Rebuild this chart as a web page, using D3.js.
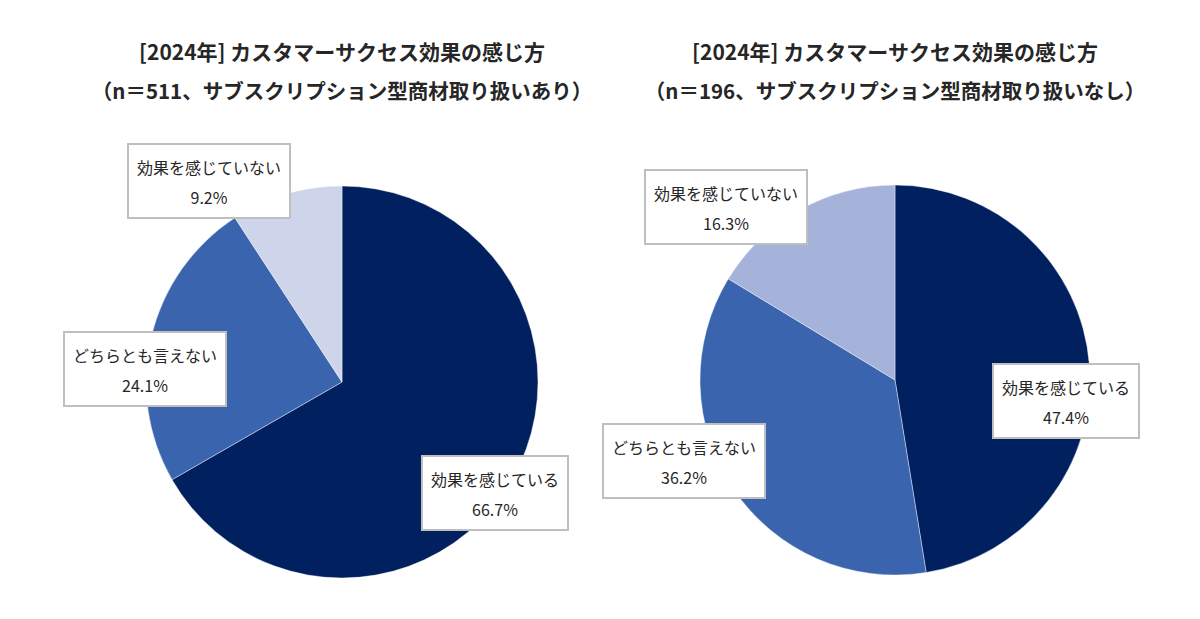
<!DOCTYPE html>
<html>
<head>
<meta charset="utf-8">
<script src="https://cdn.jsdelivr.net/npm/d3@7"></script>
<style>
  body { margin: 0; background: #fff; }
  svg { display: block; font-family: "Noto Sans CJK JP", "Noto Sans", sans-serif; }
</style>
</head>
<body>
<svg id="chart" width="1200" height="619"></svg>
<script>
// Categories (clockwise from 12 o'clock)
const categories = ["効果を感じている", "どちらとも言えない", "効果を感じていない"];

// Series values, percent
const valuesWith = [66.7, 24.1, 9.2];      // サブスクリプション型商材取り扱いあり
const valuesWithout = [47.4, 36.2, 16.3];  // サブスクリプション型商材取り扱いなし

// Titles
const titleLine1 = "[2024年] カスタマーサクセス効果の感じ方";
const titlesLine2 = ["（n＝511、サブスクリプション型商材取り扱いあり）", "（n＝196、サブスクリプション型商材取り扱いなし）"];

// Layout for each pie (not data)
const pies = [
    {
        values: valuesWith, title2: titlesLine2[0], cx: 342, cy: 382, r: 196,
        colors: ["#002060", "#3A64AE", "#CED4EA"],
        // label box centre offsets from pie centre, per category
        labelOffsets: [[153, 111], [-197, -13], [-133, -201]]
    },
    {
        values: valuesWithout, title2: titlesLine2[1], cx: 895, cy: 380, r: 195,
        colors: ["#002060", "#3A64AE", "#A5B3DB"],
        labelOffsets: [[171, 21], [-211, 81], [-169, -173]]
    }
];

const svg = d3.select("#chart");

const pie = d3.pie()
              .sort(null)
              .value(d => d);

pies.forEach(function (p) {
    const g = svg.append("g")
                 .attr("transform", "translate(" + p.cx + "," + p.cy + ")");

    // Titles
    svg.append("text")
       .attr("x", p.cx)
       .attr("y", 60)
       .attr("text-anchor", "middle")
       .style("font-size", "21px")
       .style("font-weight", "700")
       .style("fill", "#262626")
       .text(titleLine1);
    svg.append("text")
       .attr("x", p.cx)
       .attr("y", 99)
       .attr("text-anchor", "middle")
       .style("font-size", "20.5px")
       .style("font-weight", "700")
       .style("fill", "#262626")
       .text(p.title2);

    // Slices
    const arc = d3.arc()
                  .innerRadius(0)
                  .outerRadius(p.r);

    const arcs = pie(p.values);
    g.selectAll("path.slice")
     .data(arcs)
     .enter()
     .append("path")
     .attr("class", "slice")
     .attr("d", arc)
     .attr("fill", (d, i) => p.colors[i])
     .attr("stroke", "#fff")
     .attr("stroke-width", 0.4);

    // Label boxes
    arcs.forEach(function (d, i) {
        const off = p.labelOffsets[i];
        const lg = g.append("g")
                    .attr("transform", "translate(" + off[0] + "," + off[1] + ")");
        const rect = lg.append("rect");
        const t1 = lg.append("text")
                     .attr("text-anchor", "middle")
                     .attr("y", -13)
                     .attr("dy", "0.35em")
                     .style("font-size", "16px")
                     .style("fill", "#262626")
                     .text(categories[i]);
        lg.append("text")
          .attr("text-anchor", "middle")
          .attr("y", 17)
          .attr("dy", "0.35em")
          .style("font-size", "16px")
          .style("fill", "#262626")
          .text(d3.format(".1f")(d.data) + "%");
        const w = t1.node().getBBox().width + 18;
        rect.attr("x", -w / 2)
            .attr("y", -37)
            .attr("width", w)
            .attr("height", 74)
            .attr("fill", "#fff")
            .attr("stroke", "#BFBFBF")
            .attr("stroke-width", 2);
    });
});
</script>
</body>
</html>
